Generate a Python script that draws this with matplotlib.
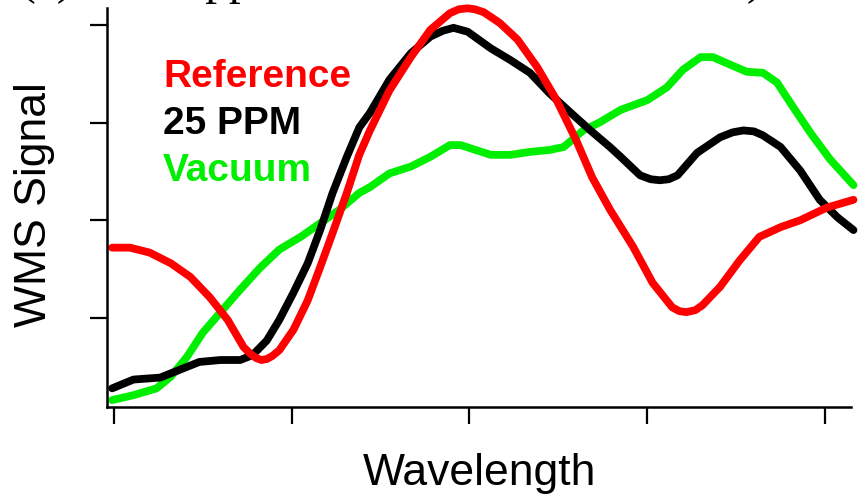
import matplotlib.pyplot as plt

# data (arbitrary units)
ref_x = [-0.01, 0.09, 0.20, 0.32, 0.43, 0.54, 0.64, 0.73, 0.77, 0.80, 0.83, 0.86, 0.89, 0.93, 1.01,
         1.09, 1.16, 1.23, 1.31, 1.38, 1.44, 1.55, 1.67, 1.78, 1.89, 1.94, 1.99, 2.03, 2.08, 2.17,
         2.27, 2.38, 2.49, 2.60, 2.69, 2.79, 2.92, 3.03, 3.14, 3.18, 3.22, 3.27, 3.31, 3.41, 3.52,
         3.63, 3.75, 3.86, 4.01, 4.16]
ref_y = [1.72, 1.72, 1.67, 1.56, 1.42, 1.21, 0.98, 0.70, 0.63, 0.59, 0.57, 0.58, 0.61, 0.67, 0.88,
         1.18, 1.52, 1.87, 2.28, 2.67, 2.92, 3.33, 3.67, 3.95, 4.12, 4.16, 4.17, 4.16, 4.13, 4.02,
         3.85, 3.57, 3.23, 2.82, 2.44, 2.11, 1.73, 1.36, 1.11, 1.07, 1.06, 1.08, 1.13, 1.32, 1.59,
         1.83, 1.93, 2.00, 2.13, 2.21]

ppm_x = [-0.01, 0.11, 0.26, 0.37, 0.48, 0.60, 0.71, 0.78, 0.86, 0.93, 1.01, 1.09, 1.16, 1.23,
         1.31, 1.38, 1.44, 1.55, 1.67, 1.78, 1.85, 1.91, 1.99, 2.12, 2.23, 2.34, 2.45, 2.57, 2.68,
         2.79, 2.85, 2.96, 3.02, 3.07, 3.12, 3.17, 3.28, 3.41, 3.48, 3.54, 3.60, 3.65, 3.75, 3.86,
         3.97, 4.07, 4.16]
ppm_y = [0.28, 0.37, 0.39, 0.47, 0.55, 0.57, 0.57, 0.62, 0.77, 0.98, 1.26, 1.56, 1.90, 2.28,
         2.65, 2.95, 3.10, 3.44, 3.71, 3.88, 3.94, 3.97, 3.93, 3.76, 3.64, 3.51, 3.30, 3.10, 2.92,
         2.75, 2.65, 2.46, 2.42, 2.41, 2.42, 2.46, 2.69, 2.85, 2.90, 2.92, 2.91, 2.87, 2.75, 2.51,
         2.21, 2.03, 1.90]

vac_x = [-0.01, 0.11, 0.24, 0.32, 0.41, 0.50, 0.60, 0.71, 0.82, 0.93, 1.05, 1.16, 1.27, 1.38,
         1.44, 1.55, 1.67, 1.78, 1.89, 1.95, 2.00, 2.12, 2.23, 2.34, 2.45, 2.53, 2.64, 2.73,
         2.85, 3.00, 3.11, 3.20, 3.30, 3.37, 3.47, 3.56, 3.65, 3.73, 3.82, 3.92, 4.03, 4.16]
vac_y = [0.16, 0.21, 0.28, 0.40, 0.60, 0.85, 1.06, 1.29, 1.51, 1.70, 1.83, 1.97, 2.11, 2.28,
         2.34, 2.48, 2.55, 2.65, 2.77, 2.77, 2.74, 2.67, 2.67, 2.70, 2.72, 2.75, 2.92, 3.00,
         3.13, 3.23, 3.36, 3.54, 3.67, 3.67, 3.59, 3.52, 3.51, 3.41, 3.16, 2.89, 2.62, 2.36]

labels = ['Reference', '25 PPM', 'Vacuum']
colors = ['#ff0000', '#000000', '#00ee00']

fig = plt.figure(figsize=(8.66, 4.98), dpi=100)
ax = fig.add_axes([107 / 866, 1 - 407 / 498, 744 / 866, 399 / 498])

for xs, ys, c in [(vac_x, vac_y, colors[2]), (ppm_x, ppm_y, colors[1]), (ref_x, ref_y, colors[0])]:
    ax.plot(xs, ys, color=c, lw=5.6, solid_capstyle='round', solid_joinstyle='round', clip_on=False)

ax.set_xlim(-0.039, 4.146)
ax.set_ylim(0.089, 4.173)
ax.set_xticks([0, 1, 2, 3, 4])
ax.set_yticks([1, 2, 3, 4])
ax.tick_params(direction='out', length=12, width=1.6, labelbottom=False, labelleft=False)
for s in ['top', 'right']:
    ax.spines[s].set_visible(False)
for s in ['left', 'bottom']:
    ax.spines[s].set_linewidth(1.8)

# axis titles
fig.text(479 / 866, 1 - 485 / 498, 'Wavelength', family='Liberation Sans', fontsize=32,
         ha='center', va='baseline')
fig.text(35 / 866, 1 - 205 / 498, 'WMS Signal', family='Liberation Sans', fontsize=32,
         ha='center', va='center', rotation=90)

# coloured text legend
for i, (lab, c) in enumerate(zip(labels, colors)):
    fig.text(163 / 866, 1 - (87 + 47 * i) / 498, lab, color=c, fontsize=28,
             fontweight='bold', family='Liberation Sans', va='baseline')

# title cut off at the top edge
fig.text(20 / 866, 1 + 6 / 498, '(a) Test Approximate WMS Line Shift)', family='Liberation Serif',
         fontsize=34, va='baseline')

fig.savefig('out.png', dpi=100)
